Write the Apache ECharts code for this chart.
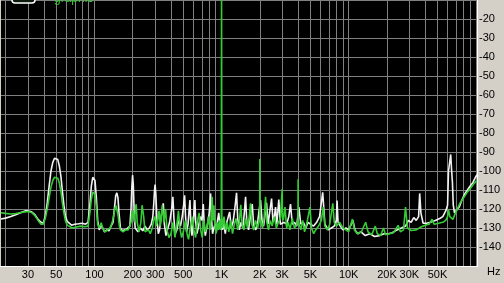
<!DOCTYPE html>
<html>
<head>
<meta charset="utf-8">
<script src="https://cdn.jsdelivr.net/npm/echarts@6/dist/echarts.min.js"></script>
<style>
html,body{margin:0;padding:0;background:#d4d0c8;}
#c{width:504px;height:283px;}
</style>
</head>
<body>
<div id="c"></div>
<script>
// ---- data ----
const whiteFreq = [18.4,20,22,24,26.5,28.5,30,32,34,36,38,39.5,41,42.5,44,45.5,47,48.5,50,51.5,53,54.5,56,57.5,59,61,63,66,70,75,80,85,89,92,94.5,97,99,101,103.5,106,109,112,116,120,125,130,135,140,144,147,150,153,156,160,166,172,180,186,190,194,197,199.5,202,205,209,214,220,230,240,250,260,270,280,288,293,297,300,304,310,318,325,335,342,348,355,365,375,390,405,414,422,432,445,460,475,490,503,512,520,530,545,555,564,572,585,600,610,617,625,640,660,680,700,718,730,745,760,780,800,820,835,850,870,890,910,930,950,970,985,1000,1015,1040,1070,1100,1130,1158,1190,1230,1270,1312,1340,1380,1420,1470,1510,1545,1580,1630,1680,1743,1790,1860,1930,1980,2026,2080,2140,2200,2259,2320,2400,2474,2540,2600,2660,2720,2821,2900,3000,3100,3250,3380,3487,3600,3750,3900,4055,4200,4400,4600,4800,5000,5300,5600,5900,6247,6500,6900,7300,7700,8000,8100,8250,8600,9000,9500,10000,10500,10800,11200,11800,12500,13500,14700,16000,17500,19000,20500,22000,24000,26000,28000,29500,31000,32500,34000,35500,36200,37000,38500,41000,44000,48000,52000,55000,58000,60000,61000,62500,63500,64500,65500,66500,68000,70000,74000,78000,82000,86000,90000,95000,100000,102200];
const whiteDb = [-125.3,-124.8,-124,-123,-121.8,-121,-121,-121.5,-123,-125.5,-127,-127.5,-124,-117,-108,-100,-95.5,-93.3,-92.9,-94,-97.5,-103,-111,-118,-123.5,-126.5,-127.5,-128.5,-128,-127.8,-127.5,-128,-127,-118,-108,-103.3,-102.7,-105,-114,-126,-131,-128.5,-130,-132,-131,-131.5,-129,-127,-119,-113,-111.5,-114,-122,-130,-131.5,-131,-130.5,-130,-129,-120,-108,-102.2,-107,-120,-130,-131,-132,-130,-131.5,-129,-131,-130,-128,-124,-117,-110,-107.1,-112,-125,-133,-131,-124,-120,-117,-128,-134,-131,-127,-120,-113.6,-125,-133,-131,-126,-129,-124,-118,-112.8,-123,-132,-128,-121,-115.3,-126,-134,-127,-119,-115.3,-126,-133,-129,-124,-126,-117.4,-128,-134,-131,-127,-122,-111.8,-126,-133,-130,-128,-132,-126,-122,-128,-131,-125,-131,-128,-133,-127,-124,-121.6,-130,-127,-120,-111.5,-125,-131,-127,-130,-122,-113.6,-127,-131,-125,-117.4,-129,-131,-126,-120,-115.3,-126,-129,-123,-116.7,-128,-121,-114.5,-127,-124,-119,-128,-115,-128,-129,-127,-128,-124,-117.4,-128,-127,-129,-119,-128,-127,-130,-127,-128,-129,-127,-124,-111.2,-128,-131,-130,-129,-126,-115.6,-127,-129,-131,-130,-131,-128,-126,-131,-133,-132,-134,-133,-134.5,-134,-133,-133,-132.5,-131,-130,-129,-126,-127,-124.5,-126,-124,-111.8,-122,-127.5,-127.5,-127,-126,-125,-124,-121,-118,-100,-99,-91.3,-99.5,-106,-118,-122,-122.5,-119,-115,-112,-110,-108,-106,-103,-102];

const greenFreq = [18.4,20,22,24,26.5,28.5,30,32,34,36,38,39.5,41,42.5,44,45.5,47,48.5,50,51.5,53,54.5,56,57.5,59,61,63,67,72,78,84,89,92,94.5,97,99,101,103.5,106,109,113,116,121,127,133,138,142,145,148,151,154,157,160,168,176,184,190,194,197,200,203,206,210,213,217,224,232,237,240,244,250,258,266,275,285,292,300,306,315,322,330,342,352,363,372,385,400,415,430,445,458,470,485,500,520,535,550,570,590,605,625,645,665,685,705,725,745,770,790,810,830,843,855,870,885,905,925,945,965,985,995,1000,1005,1020,1045,1075,1105,1140,1180,1220,1260,1300,1340,1380,1417,1450,1500,1550,1600,1650,1690,1730,1790,1850,1920,1970,1995,2000,2005,2030,2100,2160,2220,2270,2340,2420,2500,2600,2700,2800,2900,2990,3000,3010,3060,3154,3250,3350,3450,3600,3750,3900,3990,4000,4010,4070,4200,4350,4500,4700,4961,5100,5300,5500,5800,6100,6300,6500,6800,7100,7500,7700,8000,8500,9000,9500,10000,10700,11100,11700,12600,13600,14200,15200,16200,16800,17800,18800,19500,21000,22500,24500,25500,27000,28000,29000,31000,34000,37000,40000,43000,45300,47000,51000,55000,58000,60000,61000,62500,66000,69000,75000,80000,86000,91000,97000,102200];
const greenDb = [-122,-122.3,-122.6,-122.4,-121.8,-121.5,-121.3,-121.8,-123.5,-126,-128,-128,-125,-120,-114,-108.5,-105,-103.3,-103,-103.8,-106.5,-111,-117,-122,-126,-128.5,-129.5,-130,-129.5,-129,-129.3,-129,-122,-115,-111,-110.6,-112.5,-119,-128,-130,-127.2,-130,-132,-131,-130,-127,-123,-119.5,-118.3,-119,-124,-129,-131,-132,-131,-131,-129,-127,-123,-121,-124,-127,-120,-117.5,-127,-132,-127,-118,-117,-124,-132,-133,-131,-133,-130,-126,-124,-129,-126,-121,-129,-118,-127,-120,-131,-135,-133,-127,-135,-128,-121,-130,-135,-132,-126,-133,-136,-129,-124,-131,-135,-127,-122,-131,-135,-126,-132,-129,-124,-131,-125,-113.6,-126,-118,-128,-133,-127,-131,-126,-131,-126,-5,-126,-130,-124,-131,-127,-132,-126,-133,-128,-125,-131,-127,-117.8,-128,-131,-125,-130,-124,-117,-128,-131,-126,-130,-127,-125,-93.7,-125,-126,-130,-125,-113.6,-127,-131,-126,-129,-124,-130,-127,-125,-124,-109.5,-124,-126,-119,-130,-127,-131,-125,-130,-128,-126,-104.3,-126,-127,-131,-126,-132,-127,-119,-130,-133,-131,-129,-126,-119,-129,-131,-128,-117,-127,-129,-127,-130,-131,-132,-125.3,-131,-133,-132,-127,-132,-133.5,-129,-133,-134,-130,-133.5,-133,-132.5,-128.6,-132,-131,-119,-130,-131.3,-131,-129.5,-128.5,-128,-125.4,-128,-127.5,-127,-126,-124,-120.3,-124,-125.5,-122.3,-117,-114.2,-111,-109.1,-106.5,-104.9];

// axis gridline frequencies and labelled frequencies
const gridFreqs = [20,30,40,50,60,70,80,90,100,200,300,400,500,600,700,800,900,1000,2000,3000,4000,5000,6000,7000,8000,9000,10000,20000,30000,40000,50000,60000,70000,80000,90000,100000];
const labelFreqs = [30,50,100,200,300,500,1000,2000,3000,5000,10000,20000,30000,50000];
const legendText = 'graphic';

function fmtHz(f){ return f >= 1000 ? (f/1000) + 'K' : String(f); }

const chart = echarts.init(document.getElementById('c'), null, {renderer:'canvas'});
const FONT = '"Liberation Sans", Arial, sans-serif';

chart.setOption({
  animation: false,
  backgroundColor: '#d4d0c8',
  textStyle: {fontFamily: FONT},
  grid: {left: 1, width: 476, top: -10.5, height: 276.5, show: true, backgroundColor: '#000', borderWidth: 0, containLabel: false},
  xAxis: {
    type: 'log', logBase: 10, min: 18.4, max: 102200,
    axisLine: {show:false}, axisTick: {show:false}, axisLabel: {show:false}, splitLine: {show:false}
  },
  yAxis: {
    type: 'value', position: 'right', min: -150, max: -10, interval: 10,
    axisLine: {show:false}, axisTick: {show:false},
    axisLabel: {color:'#000', fontSize: 11, fontFamily: FONT, margin: 2, showMinLabel: false, showMaxLabel: false},
    splitLine: {show:true, lineStyle: {color:'#808080', width:1}}
  },
  series: [
    {
      type: 'line', name: 'grid', data: [], z: 1, silent: true,
      markLine: {
        silent: true, z: 1, animation: false, symbol: ['none','none'],
        lineStyle: {color:'#808080', width:1, type:'solid'},
        emphasis: {disabled: true},
        label: {show:false},
        data: gridFreqs.map(f => ({
          xAxis: f,
          label: labelFreqs.indexOf(f) >= 0
            ? {show:true, position:'start', formatter: fmtHz(f), color:'#000', fontSize:11, fontFamily: FONT, distance: 3}
            : {show:false}
        }))
      }
    },
    {
      type: 'line', name: 'white', z: 2, showSymbol: false, silent: true,
      lineStyle: {color:'#f2f2f2', width:1.6},
      data: whiteFreq.map((f,i) => [f, whiteDb[i]])
    },
    {
      type: 'line', name: 'green', z: 3, showSymbol: false, silent: true,
      lineStyle: {color:'#33cc33', width:1.6},
      data: greenFreq.map((f,i) => [f, greenDb[i]])
    }
  ],
  graphic: [
    {type:'line', shape:{x1:0, y1:266.5, x2:478, y2:266.5}, style:{stroke:'#ffffff', lineWidth:1}, z: 10},
    {type:'line', shape:{x1:477.5, y1:0, x2:477.5, y2:267}, style:{stroke:'#ffffff', lineWidth:1}, z: 10},
    {type:'rect', shape:{x:12, y:-9, width:23, height:12, r:3}, style:{stroke:'#ffffff', lineWidth:1.5, fill:'#0a1a0a'}, z: 10},
    {type:'text', x:54, y:5, style:{text: legendText, fill:'#33cc33', font:'12px ' + FONT, textVerticalAlign:'bottom'}, z: 10},
    {type:'text', x:487, y:266, style:{text:'Hz', fill:'#000', font:'11px ' + FONT}, z: 10}
  ]
});
</script>
</body>
</html>
